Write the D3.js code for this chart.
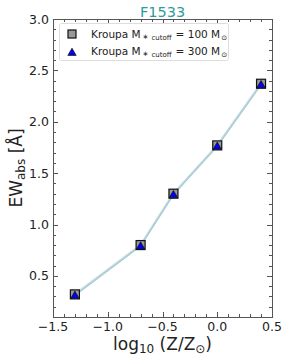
<!DOCTYPE html>
<html><head><meta charset="utf-8">
<script src="https://cdn.jsdelivr.net/npm/d3@7"></script>
<style>body{margin:0;background:#fff;} text{font-family:"DejaVu Sans",sans-serif;}</style>
</head><body><svg id="c" width="287" height="359"></svg>
<script>
const logZ = [-1.3, -0.7, -0.4, 0.0, 0.4];
const ew100 = [0.32, 0.80, 1.30, 1.77, 2.37];
const ew300 = [0.31, 0.79, 1.29, 1.76, 2.36];
const xTicks = [-1.5, -1.0, -0.5, 0.0, 0.5];
const yTicks = [0.5, 1.0, 1.5, 2.0, 2.5, 3.0];
const title = "F1533";

const svg = d3.select("#c");
const L=53, R=272, T=19, B=317;
const x = d3.scaleLinear().domain([-1.5,0.5]).range([L,R]);
const y = d3.scaleLinear().domain([0.1,3.0]).range([B,T]);
const frame="#555";

// lines
const line = d3.line().x((d,i)=>x(logZ[i])).y(d=>y(d));
svg.append("path").attr("d",line(ew100)).attr("fill","none").attr("stroke","#c2dbe2").attr("stroke-width",2.2);
svg.append("path").attr("d",line(ew300)).attr("fill","none").attr("stroke","#a9cad5").attr("stroke-width",1.2);

// frame
svg.append("rect").attr("x",L+0.5).attr("y",T+0.5).attr("width",R-L).attr("height",B-T).attr("fill","none").attr("stroke",frame).attr("stroke-width",1);

// ticks
function ticksX(vals,len){
  const g=svg.append("g");
  vals.forEach(v=>{
    const xx=Math.round(x(v))+0.5;
    g.append("line").attr("x1",xx).attr("x2",xx).attr("y1",B).attr("y2",B-len).attr("stroke",frame);
    g.append("line").attr("x1",xx).attr("x2",xx).attr("y1",T).attr("y2",T+len).attr("stroke",frame);
  });
}
function ticksY(vals,len){
  const g=svg.append("g");
  vals.forEach(v=>{
    const yy=Math.round(y(v))+0.5;
    g.append("line").attr("y1",yy).attr("y2",yy).attr("x1",L).attr("x2",L+len).attr("stroke",frame);
    g.append("line").attr("y1",yy).attr("y2",yy).attr("x1",R).attr("x2",R-len).attr("stroke",frame);
  });
}
ticksX(xTicks,5); ticksX(d3.range(-1.4,0.5,0.1).map(v=>+v.toFixed(1)).filter(v=>Math.abs(v*2-Math.round(v*2))>1e-6),3);
ticksY(yTicks,5); ticksY(d3.range(0.2,3.0,0.1).map(v=>+v.toFixed(1)).filter(v=>Math.abs(v*2-Math.round(v*2))>1e-6),3);

// tick labels
svg.append("g").selectAll("text").data(xTicks).join("text")
  .attr("x",d=>x(d)).attr("y",B+14).attr("text-anchor","middle").attr("font-size",12.5).attr("fill","#222")
  .text(d=>d3.format(".1f")(d).replace("-","\u2212"));
svg.append("g").selectAll("text").data(yTicks).join("text")
  .attr("x",L-4).attr("y",d=>y(d)+4.5).attr("text-anchor","end").attr("font-size",12.5).attr("fill","#222")
  .text(d=>d3.format(".1f")(d));

// markers
svg.append("g").selectAll("rect").data(ew100).join("rect")
  .attr("x",(d,i)=>x(logZ[i])-4.5).attr("y",d=>y(d)-4.5).attr("width",9).attr("height",9)
  .attr("fill","#999").attr("stroke","#111").attr("stroke-width",1.2);
const tri=d3.symbol().type(d3.symbolTriangle).size(30);
svg.append("g").selectAll("path").data(ew300).join("path")
  .attr("transform",(d,i)=>`translate(${x(logZ[i])},${y(d)+0.5})`).attr("d",tri)
  .attr("fill","#0000ee").attr("stroke","#111").attr("stroke-width",0.7);

// title
svg.append("text").attr("x",(L+R)/2).attr("y",17).attr("text-anchor","middle").attr("font-size",14.5).attr("fill","#2a9d9d").text(title);

// legend
const lg=svg.append("g");
lg.append("rect").attr("x",59.5).attr("y",23.5).attr("width",169).attr("height",37).attr("fill","#fff").attr("stroke","#ddd").attr("rx",2);
lg.append("rect").attr("x",68).attr("y",30).attr("width",8).attr("height",8).attr("fill","#999").attr("stroke","#111").attr("stroke-width",1.2);
lg.append("path").attr("transform","translate(72,53)").attr("d",tri).attr("fill","#0000ee").attr("stroke","#111").attr("stroke-width",0.7);
function legText(yy,val){
  const t=lg.append("text").attr("x",91).attr("y",yy).attr("font-size",10.5).attr("fill","#222");
  t.append("tspan").text("Kroupa M");
  t.append("tspan").attr("font-size",7).attr("dx",2).attr("dy",1).text("\u2217");
  t.append("tspan").attr("font-size",7).attr("dx",3).attr("dy",1).text("cutoff");
  t.append("tspan").attr("dy",-2).attr("dx",4).text("= "+val+" M");
  t.append("tspan").attr("font-size",7).attr("dy",2).attr("dx",1).text("\u2299");
}
legText(38,"100");
legText(55,"300");

// axis labels
const xl=svg.append("text").attr("x",(L+R)/2).attr("y",350).attr("text-anchor","middle").attr("font-size",17).attr("fill","#222");
xl.append("tspan").text("log");
xl.append("tspan").attr("font-size",12).attr("dy",3).text("10");
xl.append("tspan").attr("dy",-3).text(" (Z/Z");
xl.append("tspan").attr("font-size",12).attr("dy",3).text("\u2299");
xl.append("tspan").attr("dy",-3).text(")");

const yl=svg.append("text").attr("transform",`translate(22,168) rotate(-90)`).attr("text-anchor","middle").attr("font-size",17).attr("fill","#222");
yl.append("tspan").text("EW");
yl.append("tspan").attr("font-size",12).attr("dy",3).text("abs");
yl.append("tspan").attr("dy",-3).text(" [\u00c5]");
</script></body></html>
